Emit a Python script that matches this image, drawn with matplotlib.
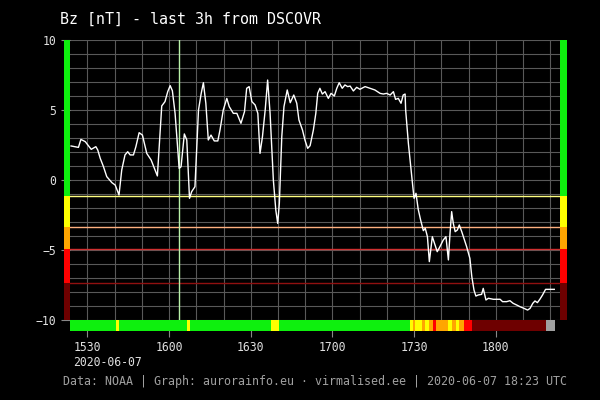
import matplotlib
matplotlib.use("Agg")
import matplotlib.pyplot as plt

# Bz samples, time given as minutes after 15:00 UTC
minutes = [24.0, 26.7, 27.6, 29.2, 31.4, 33.1, 33.8, 34.7, 35.9, 37.1, 39.0, 40.2, 41.6,
           42.6, 43.8, 44.8, 45.7, 46.9, 47.8, 49.0, 50.2, 51.8, 53.4, 54.6, 55.7, 57.3,
           58.5, 59.5, 60.4, 61.2, 62.2, 63.7, 64.4, 65.6, 66.5, 67.5, 68.3, 69.5, 70.8,
           71.8, 72.6, 73.5, 74.4, 75.4, 76.6, 77.9, 78.7, 79.9, 81.2, 82.1, 83.6, 84.9,
           86.4, 87.7, 88.5, 89.4, 90.4, 91.6, 92.6, 93.4, 94.3, 95.3, 96.2, 97.1, 98.3,
           99.2, 99.9, 100.5, 101.4, 102.2, 103.4, 104.5, 105.8, 106.9, 107.7, 109.0,
           109.9, 110.9, 111.8, 113.0, 113.9, 114.6, 115.4, 116.3, 117.3, 118.5, 119.5,
           120.7, 121.6, 122.5, 123.6, 124.6, 125.6, 126.5, 127.7, 128.9, 130.1, 132.0,
           133.8, 135.6, 137.5, 138.7, 139.9, 141.2, 142.4, 143.2, 144.2, 145.2, 146.0,
           146.7, 146.9, 147.9, 148.9, 149.7, 150.0, 150.7, 151.5, 152.4, 153.4, 154.1,
           154.9, 155.6, 156.7, 157.7, 158.5, 159.5, 160.7, 161.7, 162.6, 163.2, 163.8,
           164.4, 165.1, 165.9, 166.6, 167.5, 168.3, 169.3, 170.5, 171.2, 172.0, 172.7,
           173.6, 174.8, 175.4, 176.4, 177.3, 179.1, 181.6, 182.5, 184.0, 185.2, 186.4,
           187.7, 188.9, 190.4, 191.7, 192.6, 193.6, 194.4, 195.3, 196.2, 197.2, 198.3,
           199.9, 201.5]
bz = [2.43, 2.33, 2.90, 2.74, 2.19, 2.38, 2.14, 1.55, 0.95, 0.24, -0.19, -0.36, -1.07,
      0.71, 1.79, 2.02, 1.79, 1.79, 2.38, 3.38, 3.21, 1.90, 1.43, 0.83, 0.29, 5.29,
      5.60, 6.31, 6.74, 6.38, 4.76, 0.83, 0.95, 3.29, 2.86, -1.31, -0.83, -0.48, 5.00,
      6.19, 6.95, 5.48, 2.86, 3.21, 2.79, 2.79, 3.57, 5.00, 5.83, 5.24, 4.76, 4.76,
      4.05, 4.88, 6.55, 6.67, 5.60, 5.36, 4.76, 1.90, 3.10, 5.00, 7.14, 4.76, 0.00,
      -2.14, -3.10, -1.67, 3.10, 5.24, 6.43, 5.52, 6.07, 5.48, 4.29, 3.57,
      2.86, 2.26, 2.45, 3.57, 4.76, 6.19, 6.55, 6.14, 6.31, 5.83, 6.19,
      6.00, 6.55, 6.95, 6.55, 6.79, 6.67, 6.71, 6.36, 6.62, 6.48, 6.67,
      6.55, 6.43, 6.19, 6.14, 6.19, 6.07, 6.31, 5.76, 5.83, 5.48, 6.07,
      6.14, 5.00, 2.62, 0.71, -0.80, -1.31, -0.95, -2.08, -2.86, -3.62, -3.45,
      -4.05, -5.83, -4.05, -4.64, -5.12, -4.76, -4.29, -4.05, -5.71, -3.81, -2.26,
      -3.10, -3.69, -3.57, -3.21, -3.69, -4.17, -4.76, -5.60, -6.90, -7.86, -8.29,
      -8.21, -8.17, -7.74, -8.57, -8.45, -8.52, -8.52, -8.69, -8.69, -8.62, -8.81,
      -8.93, -9.05, -9.17, -9.29, -9.17, -8.81, -8.64, -8.76, -8.52, -8.21, -7.81,
      -7.81, -7.81]

# status strip under the chart
bar_start = [23.6, 40.5, 41.7, 66.5, 67.5, 97.4, 100.4, 148.5, 149.5, 150.3, 152.8, 154.0,
             155.5, 157.0, 158.0, 162.5, 163.8, 165.4, 166.6, 168.3, 171.2, 198.4]
bar_end = [40.5, 41.7, 66.5, 67.5, 97.4, 100.4, 148.5, 149.5, 150.3, 152.8, 154.0, 155.5,
           157.0, 158.0, 162.5, 163.8, 165.4, 166.6, 168.3, 171.2, 198.4, 201.7]
bar_color = ['#0ef00e', '#ffff00', '#0ef00e', '#ffff00', '#0ef00e', '#ffff00', '#0ef00e',
             '#ffff00', '#ffa500', '#ffff00', '#ffa500', '#ffff00', '#ffa500', '#ff0000',
             '#ffa500', '#ffff00', '#ffa500', '#ffff00', '#ffa500', '#ff0000', '#6e0000',
             '#a0a0a0']

# alert levels
levels = [-1.15, -3.38, -4.9, -7.36]
level_colors = ['#ffff80', '#ffb080', '#d03030', '#901010']
band_edges = [10, -1.15, -3.38, -4.9, -7.36, -10]
band_colors = ['#0ef00e', '#ffff00', '#ffa500', '#ff0000', '#6e0000']

tick_minutes = [30, 60, 90, 120, 150, 180]
tick_labels = ['1530', '1600', '1630', '1700', '1730', '1800']
marker_minute = 63.8
x_start, x_end = 23.6, 203.6

mono = 'DejaVu Sans Mono'

fig = plt.figure(figsize=(6, 4), dpi=100, facecolor='black')
ax = fig.add_axes([70 / 600, 80 / 400, 490 / 600, 280 / 400], facecolor='black')
ax.set_xlim(x_start, x_end)
ax.set_ylim(-10, 10)
for s in ax.spines.values():
    s.set_visible(False)

ax.set_yticks([-10, -5, 0, 5, 10])
ax.set_yticks(range(-10, 11), minor=True)
ax.set_xticks(tick_minutes, tick_labels)
ax.set_xticks(range(30, 201, 10), minor=True)
ax.grid(which='both', color='#595959', lw=0.8, zorder=0)
ax.tick_params(which='minor', length=0)
ax.tick_params(axis='y', which='major', length=6.5, width=0.8, color='#888888',
               labelcolor='#e0e0e0', labelsize=8.3, pad=3.5)
ax.tick_params(axis='x', which='major', length=12, width=0.8, color='#888888',
               labelcolor='#e0e0e0', labelsize=8.3, pad=3)
for lab in ax.get_xticklabels() + ax.get_yticklabels():
    lab.set_family(mono)

for lv, c in zip(levels, level_colors):
    ax.axhline(lv, color=c, lw=1, zorder=2)
ax.axvline(marker_minute, color='#b8f0a8', lw=1, zorder=2)

ax.plot(minutes, bz, color='white', lw=1.0, zorder=3)

# side colour scales
wl = 6 / 490 * (x_end - x_start)
wr = 7 / 490 * (x_end - x_start)
for top, bot, c in zip(band_edges[:-1], band_edges[1:], band_colors):
    ax.bar(x_start - wl, top - bot, bottom=bot, width=wl, align='edge', color=c,
           clip_on=False, zorder=4, lw=0)
    ax.bar(x_end, top - bot, bottom=bot, width=wr, align='edge', color=c,
           clip_on=False, zorder=4, lw=0)

# status strip
widths = [e - s for s, e in zip(bar_start, bar_end)]
ax.bar(bar_start, -0.79, bottom=-10.02, width=widths, align='edge', color=bar_color,
       clip_on=False, zorder=4, lw=0)

fig.text(60 / 600, 1 - 19 / 400, 'Bz [nT] - last 3h from DSCOVR', color='white',
         fontsize=10.8, family=mono, va='center', ha='left')
fig.text(73 / 600, 1 - 362 / 400, '2020-06-07', color='#e0e0e0', fontsize=8.3,
         family=mono, va='center', ha='left')
fig.text(63 / 600, 1 - 382 / 400,
         'Data: NOAA | Graph: aurorainfo.eu · virmalised.ee | 2020-06-07 18:23 UTC',
         color='#a0a0a0', fontsize=8.35, family=mono, va='center', ha='left')

fig.savefig('out.png', dpi=100, facecolor='black')
